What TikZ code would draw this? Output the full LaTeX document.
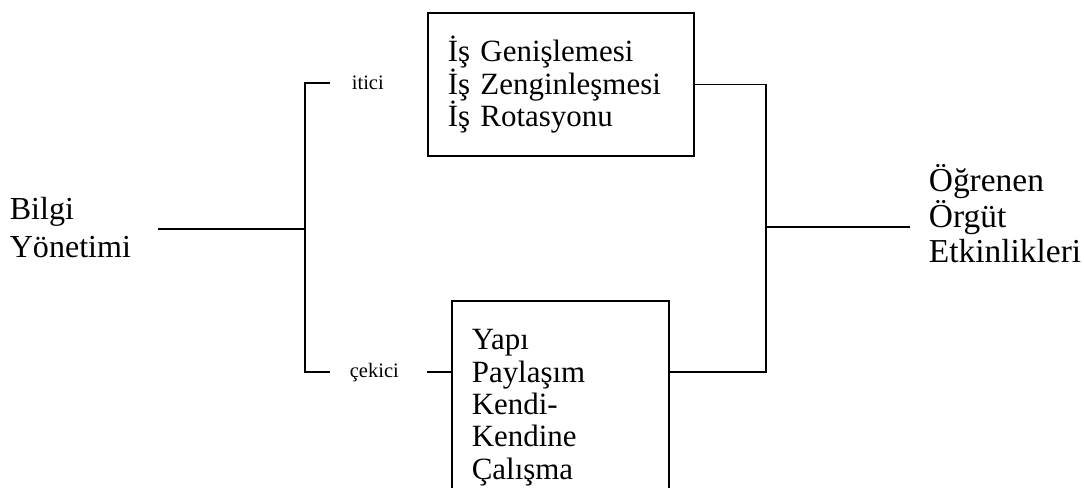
\documentclass[tikz,border=0pt]{standalone}
\usepackage{fontspec}
\setmainfont{Liberation Serif}
\usetikzlibrary{positioning,calc}

\begin{document}
\begin{tikzpicture}[
  line width=1.2pt,
  term/.style={align=left,inner sep=0pt,anchor=base west},
  branch/.style={inner sep=0pt,anchor=base west,font=\fontsize{14.6}{16}\selectfont},
  listbox/.style={draw,align=left,anchor=north west,inner xsep=0.5cm,inner ysep=0pt,
    text height=0pt,font=\fontsize{22}{23}\selectfont}
]%
  \useasboundingbox (0,0) rectangle (27.1,-12.175);
  \clip (0,0) rectangle (27.1,-12.175);

  \node[term,font=\fontsize{22.8}{27}\selectfont] (bilgi) at (0.225,-6.425) {Bilgi\\Yönetimi};
  \node[listbox,text width=5.65cm,minimum height=3.575cm,text depth=1.125cm] (topbox)
    at (10.675,-0.3) {İş Genişlemesi\\İş Zenginleşmesi\\İş Rotasyonu};
  \node[listbox,text width=4.425cm,minimum height=5cm,text depth=2.55cm] (botbox)
    at (11.275,-7.5) {Yapı\\Paylaşım\\Kendi-\\Kendine\\Çalışma};
  \node[term,font=\fontsize{23.8}{24.9}\selectfont] (orgut) at (23.2,-6.55)
    {Öğrenen\\Örgüt\\Etkinlikleri};

  \coordinate (start) at (3.95,-5.725);
  \coordinate (split) at (7.625,-5.725);
  \coordinate (push) at (8.25,-2.075);
  \coordinate (pull) at (8.25,-9.3);
  \coordinate (join) at (19.15,-5.675);
  \coordinate (end) at (22.75,-5.675);

  \node[branch] (itici) at ($(push)+(0.525,-0.15)$) {itici};
  \node[branch] (cekici) at ($(pull)+(0.475,-0.125)$) {çekici};

  \draw (start) -- (split);
  \draw (push) -| (split) |- (pull);
  \draw ($(botbox.west |- pull)+(-0.6,0)$) -- (botbox.west |- pull);
  \draw (topbox.east) -| (join) |- (botbox.east |- pull);
  \draw (join) -- (end);
\end{tikzpicture}
\end{document}
